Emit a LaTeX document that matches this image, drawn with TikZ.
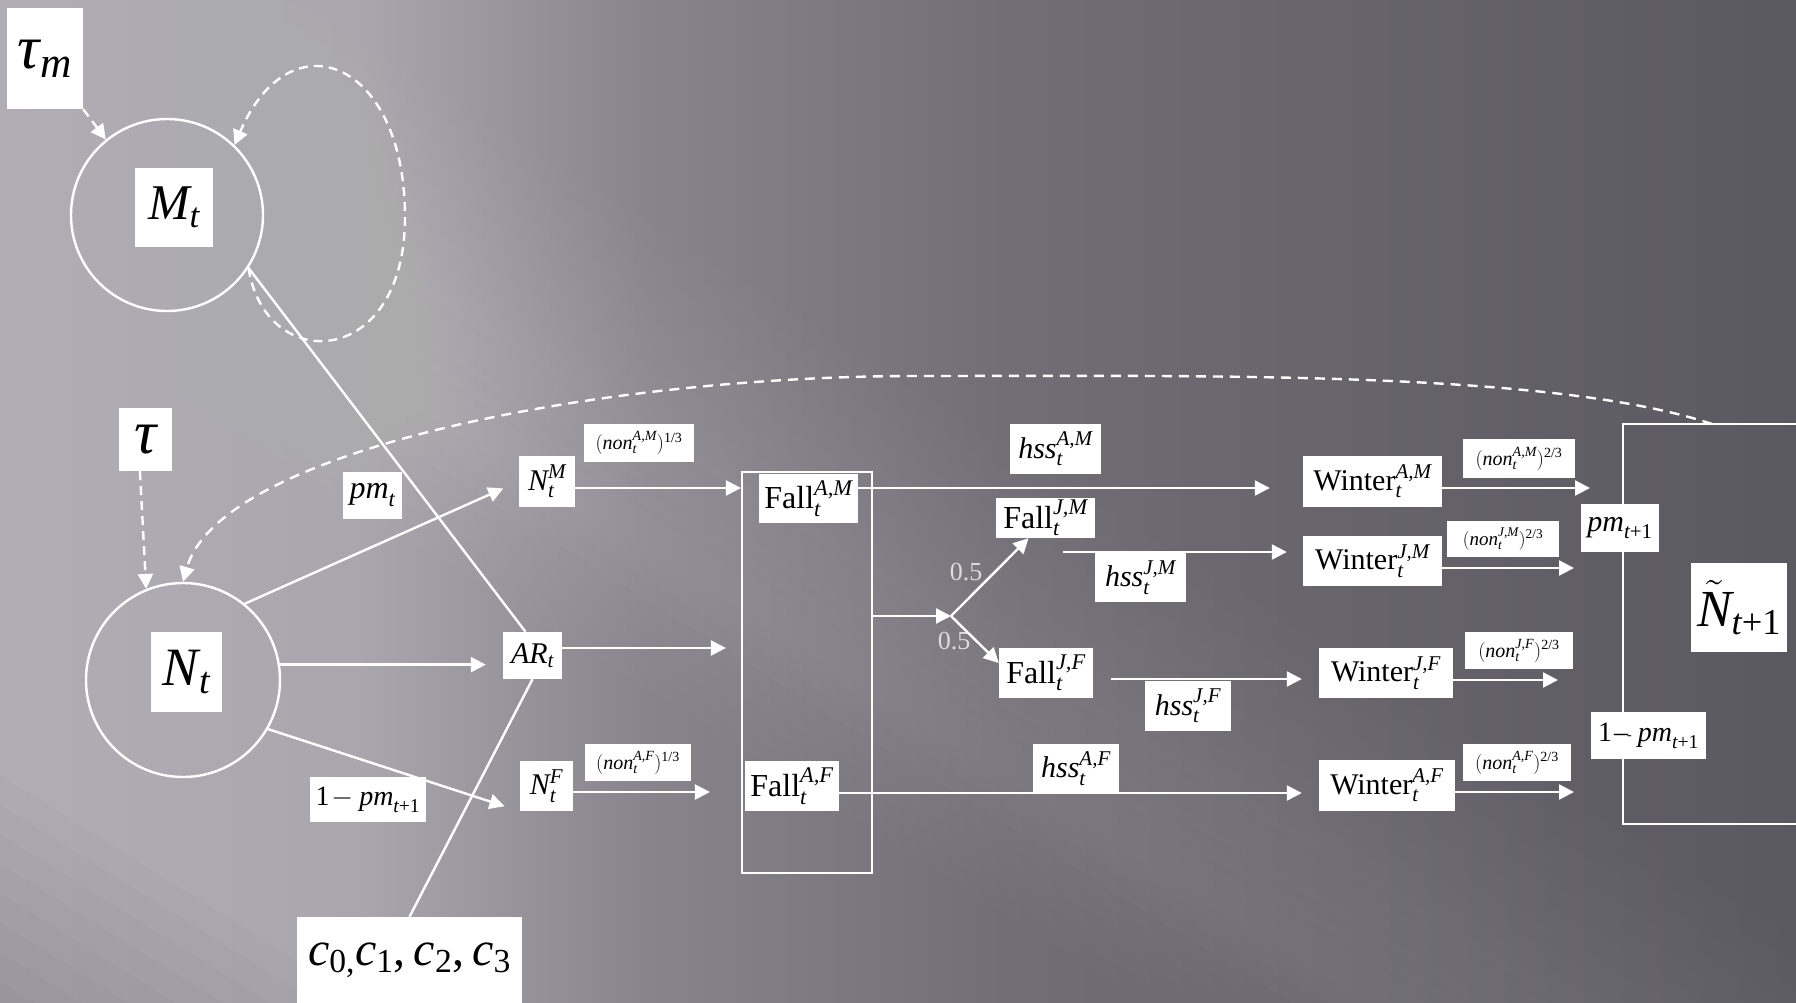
\RequirePackage{fix-cm}
\documentclass[tikz,border=0pt]{standalone}
\usepackage{amsmath}
\usepackage{fontspec}
\setmainfont{Liberation Serif}
\usetikzlibrary{arrows.meta,calc}

\newcommand\mi[1]{\textit{#1}}
\newcommand\fsz[1]{\fontsize{#1}{#1}\selectfont}

\definecolor{bgA}{HTML}{B0AEB4}
\definecolor{bgB}{HTML}{A9A7AD}
\definecolor{bgC}{HTML}{87858B}
\definecolor{bgD}{HTML}{716F75}
\definecolor{bgE}{HTML}{68666C}
\definecolor{bgF}{HTML}{5B5960}
\definecolor{halfgray}{HTML}{DCDCDC}

\pgfdeclarehorizontalshading{bgshade}{100bp}{color(0bp)=(bgA); color(25bp)=(bgA);
  color(35bp)=(bgB); color(43bp)=(bgC); color(53bp)=(bgD); color(61bp)=(bgE);
  color(75bp)=(bgF); color(100bp)=(bgF)}

\tikzset{
  lab/.style={fill=white, inner sep=0pt, text=black},
  box/.style 2 args={lab, minimum width=#1, minimum height=#2},
  wire/.style={draw=white, line width=2.4pt},
  arr/.style={wire, -{Triangle[length=15pt,width=15pt]}},
  darr/.style={arr, dash pattern=on 9pt off 6pt},
  ring/.style={circle, draw=white, line width=2.4pt, inner sep=0pt},
}

\begin{document}
\begin{tikzpicture}[x=1pt,y=-1pt]
\useasboundingbox (0,0) rectangle (1796,1002);

% backdrop: gradient with soft diagonal rays
\shade[shading=bgshade] (0,0) rectangle (1796,1002);
\begin{scope}
  \clip (0,0) rectangle (1796,1002);
  \begin{scope}[shift={(820,520)}, rotate=-32]
    \foreach \w in {20,40,...,160}
      \fill[white, fill opacity=0.013] (-1600,-\w) rectangle (1600,\w);
  \end{scope}
  \begin{scope}[shift={(300,330)}, rotate=-32]
    \foreach \w in {15,30,...,120}
      \fill[white, fill opacity=0.010] (-1600,-\w) rectangle (1600,\w);
  \end{scope}
  \begin{scope}[shift={(0,1070)}, rotate=-32]
    \foreach \w in {25,50,...,250}
      \fill[black, fill opacity=0.016] (-1600,-\w) rectangle (1600,\w);
  \end{scope}
\end{scope}

% open frame on the right
\coordinate (fr1) at (1796,424);
\coordinate (fr2) at (1623,424);
\coordinate (fr3) at (1623,824);
\coordinate (fr4) at (1796,824);
\draw[wire, line width=2pt] (fr1) -- (fr2) -- (fr3) -- (fr4);

% state circles
\node[ring, minimum size=192pt] (M) at (167,215) {};
\node[ring, minimum size=194pt] (N) at (183,680) {};
\node[box={78pt}{79pt}, font=\fsz{50}] (Mlab) at (174,207.5) {$\mi{M}_{\mi{t}}$};
\node[box={71pt}{80pt}, font=\fsz{54}] (Nlab) at (186.5,672) {$\mi{N}_{\mi{t}}$};

% priors and coefficients
\node[box={76pt}{101pt}, font=\fsz{62}] (taum) at (45,58.5) {$\mi{τ}_{\mi{m}}$};
\node[box={53pt}{63pt}, font=\fsz{62}] (tau) at (145.5,439.5) {$\mi{τ}$};
\node[box={225pt}{86pt}, font=\fsz{48}] (cs) at (409.5,960)
  {$\mi{c}_{\text{0,}}\mi{c}_{\text{1}}\text{,}\,\mi{c}_{\text{2}}\text{,}\,\mi{c}_{\text{3}}$};

% split by sex
\node[box={59pt}{47pt}, font=\fsz{32}] (pmt) at (372.5,495.5) {$\mi{pm}_{\mi{t}}$};
\node[box={116pt}{45pt}, font=\fsz{28}] (omp) at (368,799.5) {$\text{1}\!-\mi{pm}_{\mi{t}\text{+1}}$};
\node[box={56pt}{51pt}, font=\fsz{30}] (NM) at (547,481.5) {$\mi{N}_{\mi{t}}^{\mi{M}}$};
\node[box={59pt}{47pt}, font=\fsz{30}] (AR) at (532.5,655.5) {$\mi{AR}_{\mi{t}}$};
\node[box={53pt}{50pt}, font=\fsz{30}] (NF) at (546.5,786) {$\mi{N}_{\mi{t}}^{\mi{F}}$};
\node[box={110pt}{38pt}, font=\fsz{20}] (nonAM1) at (639,443) {$(\mi{non}_{\mi{t}}^{\mi{A,M}})^{\text{1/3}}$};
\node[box={106pt}{37pt}, font=\fsz{20}] (nonAF1) at (638,762.5) {$(\mi{non}_{\mi{t}}^{\mi{A,F}})^{\text{1/3}}$};

% fall stage
\node[draw=white, line width=2.2pt, minimum width=130pt, minimum height=401pt, inner sep=0pt] (fallbox) at (807,672.5) {};
\node[box={99pt}{49pt}, font=\fsz{32}] (FAM) at (808.5,498.5) {$\text{Fall}_{\mi{t}}^{\mi{A,M}}$};
\node[box={94pt}{50pt}, font=\fsz{32}] (FAF) at (792,786) {$\text{Fall}_{\mi{t}}^{\mi{A,F}}$};
\node[box={99pt}{40pt}, font=\fsz{32}] (FJM) at (1045.5,518) {$\text{Fall}_{\mi{t}}^{\mi{J,M}}$};
\node[box={94pt}{50pt}, font=\fsz{32}] (FJF) at (1046,673) {$\text{Fall}_{\mi{t}}^{\mi{J,F}}$};
\node[font=\fsz{26}, text=halfgray, inner sep=0pt] (pu) at (966,572) {0.5};
\node[font=\fsz{26}, text=halfgray, inner sep=0pt] (pl) at (954,641) {0.5};

% survival labels
\node[box={91pt}{50pt}, font=\fsz{30}] (hssAM) at (1055.5,449) {$\mi{hss}_{\mi{t}}^{\mi{A,M}}$};
\node[box={91pt}{49pt}, font=\fsz{30}] (hssJM) at (1140.5,577.5) {$\mi{hss}_{\mi{t}}^{\mi{J,M}}$};
\node[box={86pt}{50pt}, font=\fsz{30}] (hssJF) at (1188,706) {$\mi{hss}_{\mi{t}}^{\mi{J,F}}$};
\node[box={86pt}{49pt}, font=\fsz{30}] (hssAF) at (1076,768.5) {$\mi{hss}_{\mi{t}}^{\mi{A,F}}$};

% winter stage
\node[box={139pt}{51pt}, font=\fsz{30}] (WAM) at (1372.5,481.5) {$\text{Winter}_{\mi{t}}^{\mi{A,M}}$};
\node[box={139pt}{50pt}, font=\fsz{30}] (WJM) at (1372.5,561) {$\text{Winter}_{\mi{t}}^{\mi{J,M}}$};
\node[box={134pt}{50pt}, font=\fsz{30}] (WJF) at (1386,673) {$\text{Winter}_{\mi{t}}^{\mi{J,F}}$};
\node[box={136pt}{51pt}, font=\fsz{30}] (WAF) at (1387,785.5) {$\text{Winter}_{\mi{t}}^{\mi{A,F}}$};
\node[box={112pt}{39pt}, font=\fsz{20}] (nonAM2) at (1519,458.5) {$(\mi{non}_{\mi{t}}^{\mi{A,M}})^{\text{2/3}}$};
\node[box={112pt}{36pt}, font=\fsz{19}] (nonJM2) at (1503,539) {$(\mi{non}_{\mi{t}}^{\mi{J,M}})^{\text{2/3}}$};
\node[box={108pt}{37pt}, font=\fsz{20}] (nonJF2) at (1519,650.5) {$(\mi{non}_{\mi{t}}^{\mi{J,F}})^{\text{2/3}}$};
\node[box={108pt}{37pt}, font=\fsz{20}] (nonAF2) at (1517,762.5) {$(\mi{non}_{\mi{t}}^{\mi{A,F}})^{\text{2/3}}$};

% next year
\node[box={78pt}{48pt}, font=\fsz{30}] (pmt1) at (1620,528) {$\mi{pm}_{\mi{t}\text{+1}}$};
\node[box={115pt}{47pt}, font=\fsz{28}] (omp2) at (1648.5,735.5)
  {$\text{1}\kern2pt\text{–\kern-1pt\raisebox{2pt}{\scalebox{0.5}{-}}}\kern6pt\mi{pm}_{\mi{t}\text{+1}}$};
\node[box={96pt}{89pt}, font=\fsz{52}] (Ntil) at (1739,607.5) {$\tilde{\mi{N}}_{\mi{t}\text{+1}}$};

% free ends and branch point
\coordinate (split) at (951,616);
\coordinate (jm0) at (1063,552);
\coordinate (jf0) at (1111,679);
\coordinate (eAM) at (1590,488);
\coordinate (eJM) at (1574,568);
\coordinate (eJF) at (1558,680);
\coordinate (eAF) at (1574,792);
\coordinate (ftop) at (1712,424);

% dashed dependencies
\draw[darr] (taum.south east) -- (M.129);
\draw[darr] (tau.-100) -- (N.112);
\draw[darr] (M.-33) .. controls (265,375) and (405,370) .. (405,217)
  .. controls (405,60) and (290,15) .. (M.46);
\draw[darr, dash pattern=on 10pt off 7pt] (ftop) .. controls (1550,370) and (1200,376) .. (916,376)
  .. controls (600,376) and (220,450) .. (N.90);

% inputs to the age ratio
\draw[wire] (M.-33) -- ([xshift=-7pt]AR.north);
\draw[wire] (cs.north) -- (AR.south);

% from N_t
\draw[arr, shorten >=17pt] (N.51) -- (NM.west);
\draw[arr, shorten >=17pt] (N.9.5) -- (N.9.5 -| AR.west);
\draw[arr, shorten >=16pt] (N.-30) -- (NF.south west);

% into the fall stage
\draw[arr] ([yshift=-6.5pt]NM.east) -- ([yshift=-6.5pt]NM.east -| fallbox.west);
\draw[arr, shorten >=15pt] ([yshift=7.5pt]AR.east) -- ([yshift=7.5pt]AR.east -| fallbox.west);
\draw[arr, shorten >=31pt] ([yshift=-6pt]NF.east) -- ([yshift=-6pt]NF.east -| fallbox.west);

% juveniles split evenly by sex
\draw[arr] (fallbox.east |- split) -- (split);
\draw[arr] (split) -- ([xshift=-17pt]FJM.south);
\draw[arr] (split) -- ([yshift=10pt]FJF.west);

% fall to winter
\draw[arr, shorten >=33pt] ([yshift=10.5pt]FAM.east) -- ([yshift=10.5pt]FAM.east -| WAM.west);
\draw[arr, shorten >=16pt] (jm0) -- (jm0 -| WJM.west);
\draw[arr, shorten >=17pt] (jf0) -- (jf0 -| WJF.west);
\draw[arr, shorten >=17pt] ([yshift=-7pt]FAF.east) -- ([yshift=-7pt]FAF.east -| WAF.west);

% winter to next year
\draw[arr] ([yshift=-6.5pt]WAM.east) -- (eAM);
\draw[arr] ([yshift=-7pt]WJM.east) -- (eJM);
\draw[arr] ([yshift=-7pt]WJF.east) -- (eJF);
\draw[arr] ([yshift=-6.5pt]WAF.east) -- (eAF);
\end{tikzpicture}
\end{document}
